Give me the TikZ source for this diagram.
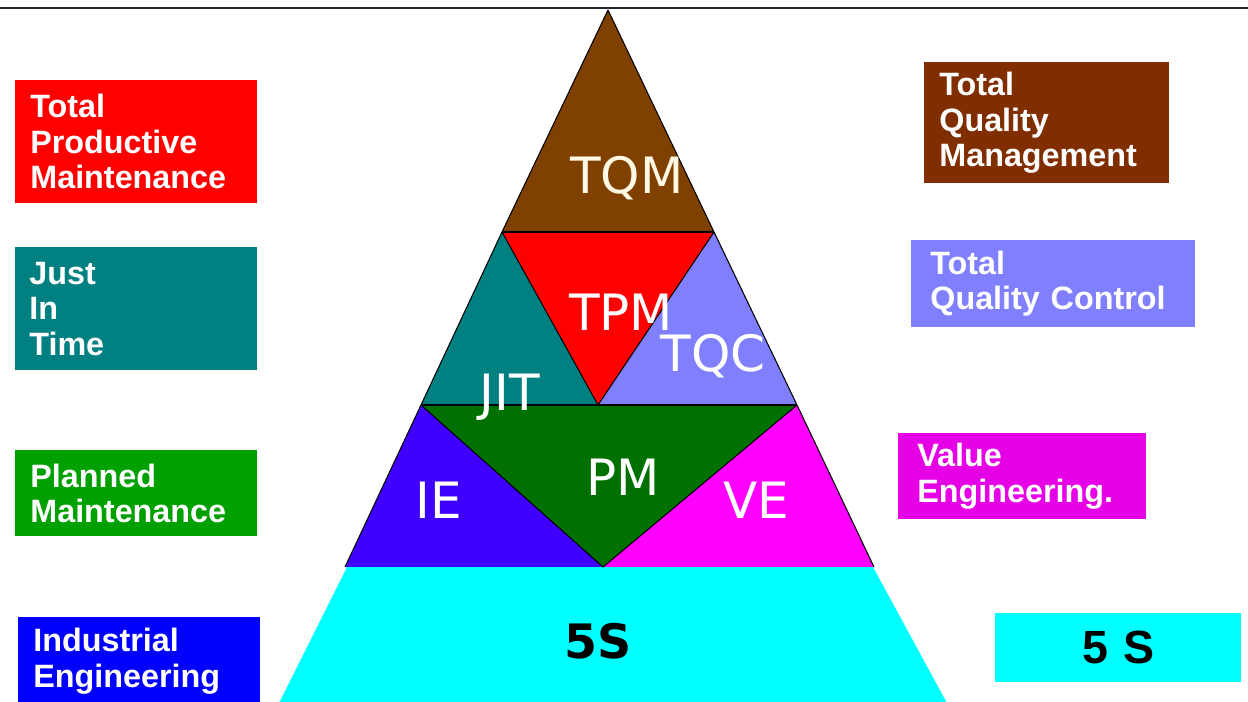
\documentclass[tikz,border=0pt]{standalone}
\usepackage{fontspec}
\setmainfont{Liberation Sans}
\newfontfamily\levelfont{DejaVu Sans}

\definecolor{tqmbrown}{RGB}{128,64,0}
\definecolor{boxbrown}{RGB}{128,46,0}
\definecolor{tpmred}{RGB}{255,0,0}
\definecolor{jitteal}{RGB}{0,128,128}
\definecolor{tqclav}{RGB}{128,128,255}
\definecolor{pmgreen}{RGB}{0,112,0}
\definecolor{boxgreen}{RGB}{0,160,0}
\definecolor{ieblue}{RGB}{64,0,255}
\definecolor{boxblue}{RGB}{0,0,255}
\definecolor{vemag}{RGB}{255,0,255}
\definecolor{boxmag}{RGB}{230,0,230}
\definecolor{fivecyan}{RGB}{0,255,255}
\definecolor{cream}{RGB}{255,248,228}

\newcommand{\boxfont}{\fontsize{18.4}{20.2}\selectfont\bfseries}
\newcommand{\levelsize}{\levelfont\fontsize{28.5}{30}\selectfont}

\tikzset{
    legend/.style={rectangle, anchor=north west, inner xsep=0.3cm, inner ysep=0pt,
        align=left, text=white, font=\boxfont},
    level/.style={inner sep=0pt, text=white, font=\levelsize},
    part/.style={draw=black, line width=0.6pt, line join=round},
}

\begin{document}
\begin{tikzpicture}[x=0.02cm, y=-0.02cm]
    \useasboundingbox (0, 0) rectangle (1248, 701);
    \clip (0, 0) rectangle (1248, 701);

    % rule along the top
    \draw[line width=1.2pt, black!85] (0, 8) -- (1248, 8);

    % corners of the pyramid
    \coordinate (apex) at (608, 10);
    \coordinate (tl) at (502, 232);
    \coordinate (tr) at (714, 232);
    \coordinate (ml) at (421, 405);
    \coordinate (mm) at (598, 405);
    \coordinate (mr) at (797, 405);
    \coordinate (bl) at (345, 567);
    \coordinate (bm) at (603, 567);
    \coordinate (br) at (874, 567);

    % top
    \fill[tqmbrown] (apex) -- (tr) -- (tl) -- cycle;
    % middle band
    \fill[tpmred] (tl) -- (tr) -- (mm) -- cycle;
    \fill[jitteal] (tl) -- (mm) -- (ml) -- cycle;
    \fill[tqclav] (tr) -- (mr) -- (mm) -- cycle;
    % lower band
    \fill[pmgreen] (ml) -- (mr) -- (bm) -- cycle;
    \fill[ieblue] (ml) -- (bm) -- (bl) -- cycle;
    \fill[vemag] (mr) -- (br) -- (bm) -- cycle;
    % base
    \fill[fivecyan] (347, 567) -- (873, 567) -- (948, 705) -- (278, 705) -- cycle;

    \draw[part] (apex) -- (tr) -- (mr) -- (br);
    \draw[part] (apex) -- (tl) -- (ml) -- (bl);
    \draw[part, line width=1.1pt] (tl) -- (tr);
    \draw[part, line width=1.1pt] (ml) -- (mr);
    \draw[part] (tl) -- (mm) -- (tr);
    \draw[part] (ml) -- (bm) -- (mr);

    \node[level, text=cream] (tqm) at (627, 178) {TQM};
    \node[level] (tpm) at (621, 312) {TPM};
    \node[level] (tqc) at (713, 356) {TQC};
    \node[level] (jit) at (510, 397) {JIT};
    \node[level] (pm) at (623, 477) {PM};
    \node[level] (ie) at (439, 500) {IE};
    \node[level] (ve) at (756, 500) {VE};
    \node[level, text=black, font=\levelfont\fontsize{27}{30}\selectfont\bfseries] (fives) at (598, 641) {5S};

    % legend on the left
    \node[legend, fill=tpmred, text width=4.24cm, minimum height=2.46cm] (boxtpm) at (15, 80)
        {Total\\Productive\\Maintenance};
    \node[legend, fill=jitteal, text width=4.28cm, minimum height=2.46cm, inner xsep=0.28cm] (boxjit) at (15, 247)
        {Just\\In\\Time};
    \node[legend, fill=boxgreen, text width=4.24cm, minimum height=1.72cm] (boxpm) at (15, 450)
        {Planned\\Maintenance};
    \node[legend, fill=boxblue, text width=4.24cm, minimum height=1.76cm] (boxie) at (18, 617)
        {Industrial\\Engineering};

    % legend on the right
    \node[legend, fill=boxbrown, text width=4.3cm, minimum height=2.42cm] (boxtqm) at (924, 62)
        {Total\\Quality\\Management};
    \node[legend, fill=tqclav, text width=4.92cm, minimum height=1.74cm, inner xsep=0.38cm] (boxtqc) at (911, 240)
        {Total\\Quality Control};
    \node[legend, fill=boxmag, text width=4.2cm, minimum height=1.72cm, inner xsep=0.38cm] (boxve) at (898, 433)
        {Value\\Engineering.};
    \node[legend, fill=fivecyan, text=black, align=center, text width=4.92cm, inner xsep=0pt,
        minimum height=1.38cm, font=\fontsize{26.5}{28}\selectfont\bfseries] (boxfives) at (995, 613)
        {5 S};
\end{tikzpicture}
\end{document}
